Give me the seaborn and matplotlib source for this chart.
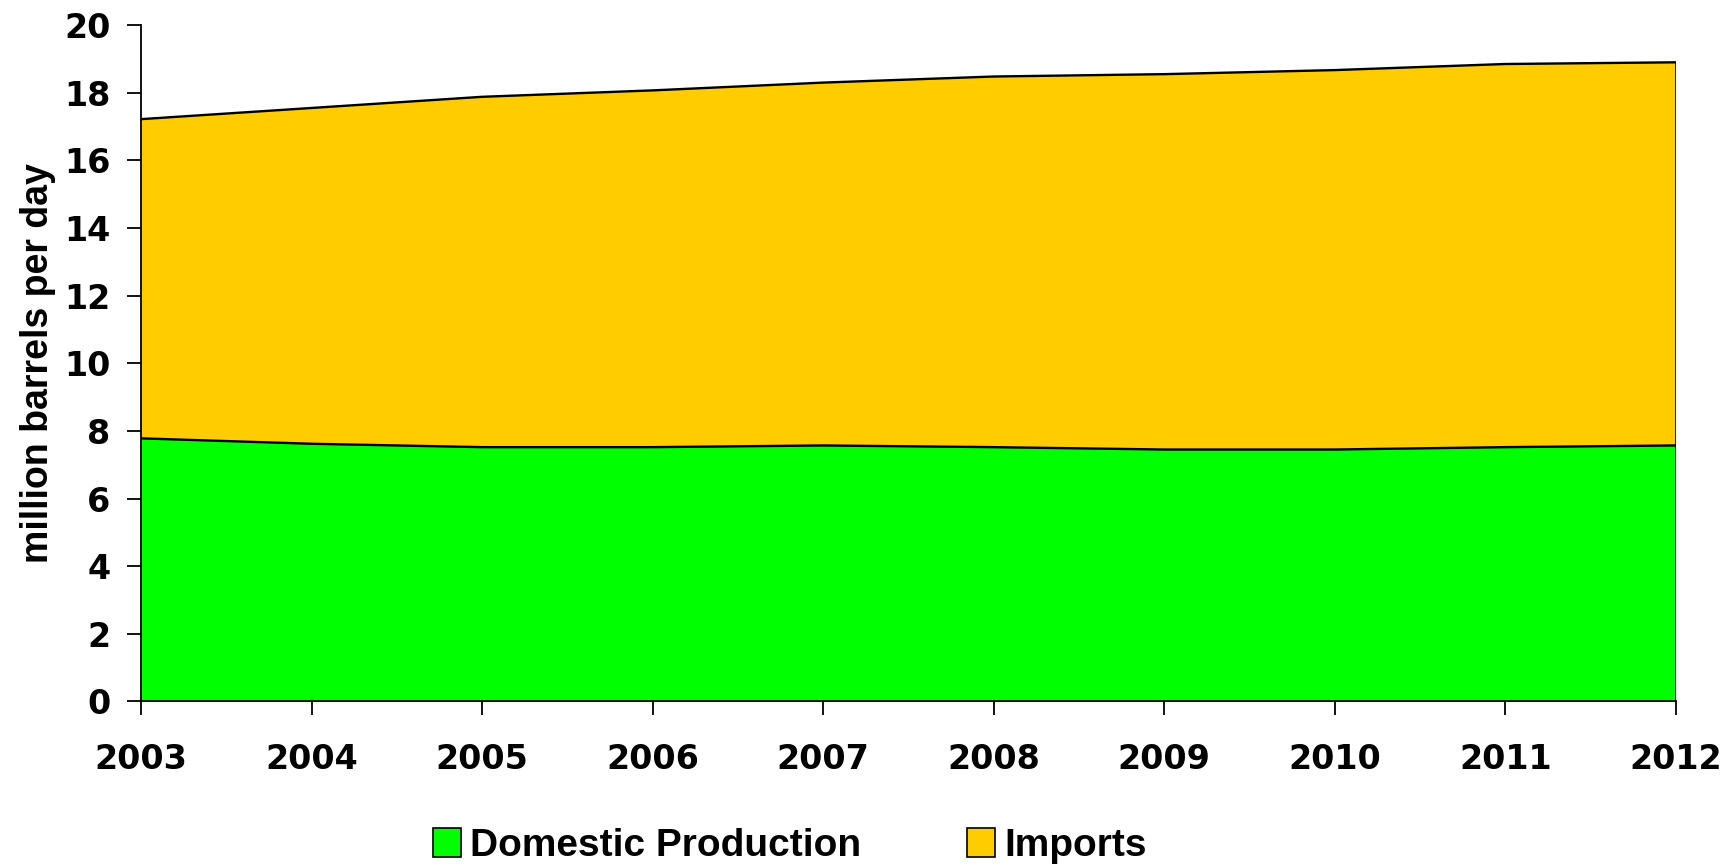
import matplotlib
matplotlib.use("Agg")
import matplotlib.pyplot as plt
import seaborn as sns
import pandas as pd
from matplotlib.patches import Patch

years = [2003, 2004, 2005, 2006, 2007, 2008, 2009, 2010, 2011, 2012]
domestic = [7.78, 7.62, 7.52, 7.52, 7.57, 7.52, 7.45, 7.45, 7.52, 7.57]
total = [17.22, 17.55, 17.88, 18.07, 18.30, 18.48, 18.55, 18.67, 18.85, 18.90]
imports = [t - d for t, d in zip(total, domestic)]
series_names = ["Domestic Production", "Imports"]
colors = ["#00FF00", "#FFCC00"]
yticks = [0, 2, 4, 6, 8, 10, 12, 14, 16, 18, 20]

sns.set_theme(style="ticks")
plt.rcParams['font.family'] = ['Liberation Sans', 'DejaVu Sans']
plt.rcParams['text.color'] = 'black'

fig = plt.figure(figsize=(17.32, 8.66), dpi=100)
ax = fig.add_axes([0.0815, 0.19, 0.886, 0.781])

ax.stackplot(years, domestic, imports, colors=colors, edgecolor="none")
df = pd.DataFrame({"year": years, "domestic": domestic, "total": total})
sns.lineplot(data=df, x="year", y="domestic", color="black", linewidth=1.7, ax=ax)
sns.lineplot(data=df, x="year", y="total", color="black", linewidth=1.7, ax=ax)
ax.vlines(years[-1], 0, total[-1], color="black", linewidth=1.2)

ax.set_xlim(years[0], years[-1])
ax.set_ylim(0, 20)
ax.set_xticks(years)
ax.set_xticklabels([str(y) for y in years])
ax.set_yticks(yticks)
ax.set_yticklabels([str(y) for y in yticks])
for s in ["top", "right"]:
    ax.spines[s].set_visible(False)
for s in ["left", "bottom"]:
    ax.spines[s].set_linewidth(1.3)
    ax.spines[s].set_color("black")
ax.tick_params(axis="both", direction="out", length=10, width=1.3, colors="black",
               labelsize=24)
ax.tick_params(axis="x", pad=20)
ax.tick_params(axis="y", pad=12)
for lab in ax.get_xticklabels() + ax.get_yticklabels():
    lab.set_fontweight("bold")
    lab.set_family("DejaVu Sans")
ax.set_xlabel("")
ax.set_ylabel("million barrels per day", fontsize=27, fontweight="bold",
              family=['Liberation Sans', 'DejaVu Sans'], labelpad=6, color="black")

handles = [Patch(facecolor=c, edgecolor="black", linewidth=1.2) for c in colors]
leg = fig.legend(handles, series_names, loc="center", bbox_to_anchor=(0.456, 0.023),
                 ncol=2, frameon=False, columnspacing=2.7, handlelength=0.72,
                 handleheight=0.78, handletextpad=0.25,
                 prop={"family": ['Liberation Sans', 'DejaVu Sans'], "weight": "bold", "size": 28})
for t in leg.get_texts():
    t.set_color("black")

fig.savefig("out.png", dpi=100)
